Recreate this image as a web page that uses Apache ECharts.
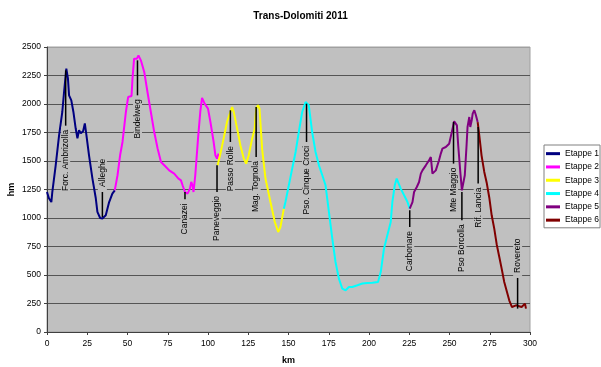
<!DOCTYPE html>
<html>
<head>
<meta charset="utf-8">
<script src="https://cdn.jsdelivr.net/npm/echarts@6/dist/echarts.min.js"></script>
<style>html,body{margin:0;padding:0;background:#fff;}#chart{width:601px;height:367px;}</style>
</head>
<body>
<div id="chart"></div>
<script>
const stageNames = ['Etappe 1','Etappe 2','Etappe 3','Etappe 4','Etappe 5','Etappe 6'];
const stageColors = ['#000080','#ff00ff','#ffff00','#00ffff','#800080','#800000'];

const stage1 = [[0,1228],[1.2,1173],[2.7,1140],[3.3,1228],[5.4,1462],[7.5,1725],[9.5,1930],[10.6,2105],[12,2310],[13,2225],[13.7,2076],[15.1,2032],[16.4,1930],[17.8,1787],[18.9,1700],[19.9,1770],[21,1743],[22.4,1760],[23.5,1830],[24.5,1725],[26.1,1550],[28.2,1348],[30.3,1173],[31.3,1053],[33,1000],[34.4,995],[36.5,1024],[38.6,1140],[40.6,1214],[42.1,1243]];
const stage2 = [[42.1,1243],[43.8,1375],[45.4,1550],[46.9,1667],[49,1930],[50.4,2061],[52.5,2070],[53.1,2223],[54.1,2398],[55.8,2398],[56.8,2427],[58.3,2383],[59.3,2398],[60.4,2281],[62.4,2105],[64.5,1930],[66.6,1754],[68.7,1609],[70.8,1491],[73.3,1456],[75.9,1418],[79,1389],[81.5,1348],[83.2,1330],[84.2,1287],[85.7,1228],[87.3,1214],[88.8,1258],[89.6,1316],[90.4,1287],[91,1228],[92.1,1375],[93.8,1696],[95.2,1930],[96.3,2053],[97.9,2003],[100,1960],[101.5,1842],[103.5,1667],[104.6,1550],[105.6,1521],[106.6,1565]];
const stage3 = [[106,1462],[107.7,1565],[109.7,1696],[111.8,1842],[113.9,1930],[115,1974],[116,1930],[118.1,1784],[120.1,1638],[122.2,1521],[123.7,1477],[125.3,1550],[127.4,1696],[129,1784],[129.9,1960],[131.1,1989],[132,1960],[133.6,1609],[135.7,1346],[138.8,1140],[141.5,965],[143.6,877],[145,921],[147.1,1082]];
const stage4 = [[147.1,1082],[148.1,1140],[150.2,1287],[152.3,1433],[154.4,1579],[156.4,1754],[158.5,1930],[160.6,2018],[161.6,2018],[162.6,1989],[164.7,1754],[166.8,1579],[168.9,1462],[171,1375],[173,1287],[175.1,1053],[177.2,819],[179.2,614],[181.3,468],[183.4,381],[185.5,366],[187.5,395],[189.6,395],[192.8,410],[195.9,425],[199,430],[202.1,433],[205.6,439],[207.3,526],[209.3,731],[211.4,848],[213.5,965],[214.5,1140],[216,1287],[217.2,1346],[218,1330],[219.7,1258],[221.8,1200],[223.9,1140],[225.3,1082]];
const stage5 = [[225.3,1082],[227,1140],[228,1228],[229.7,1272],[231.1,1316],[232.2,1389],[233.2,1418],[234.2,1404],[235.3,1462],[236.3,1447],[237.3,1506],[238.4,1535],[239.4,1389],[240.4,1375],[241.5,1418],[242.5,1433],[243.5,1506],[244.6,1565],[245.6,1609],[246.7,1594],[247.7,1623],[248.8,1623],[249.8,1652],[250.8,1667],[251.9,1784],[252.9,1848],[253.9,1848],[254.6,1813],[255.4,1638],[256.7,1404],[257.7,1243],[258.7,1228],[259.5,1375],[260.6,1638],[261.2,1798],[262.3,1886],[262.9,1798],[263.8,1857],[264.4,1916],[265.4,1945],[266.4,1901],[267.5,1842]];
const stage6 = [[267.5,1842],[268.5,1725],[269.9,1550],[271.6,1404],[273.2,1302],[274.7,1180],[276.2,1024],[277.8,907],[279.3,770],[280.9,660],[282.4,556],[284,439],[285.7,351],[287.1,278],[288.8,219],[289.8,205],[291.3,234],[292.7,228],[293.9,240],[294.8,219],[296,234],[296.9,249],[297.5,205]];

const annoNames = ['Forc. Ambrizolla','Alleghe','Bindelweg','Canazei','Paneveggio','Passo Rolle','Mag. Tognola','Pso. Cinque Croci','Carbonare','Mte Maggio','Pso Borcolla','Rif. Lancia','Rovereto'];
const annoKm = [11.6,34.4,56.2,85.7,105.6,113.9,129.9,161.2,225.3,252.5,257.7,267.8,292.3];
const annoTop = [2295,1228,2383,1228,1462,1945,1974,2003,1068,1842,1228,1798,474];
const annoBottom = [1810,1009,2076,1164,1228,1667,1535,1667,921,1477,980,1302,205];
const annoSide = ['below','above','below','below','below','below','below','below','below','below','below','below','above'];

const FONT = "'Liberation Sans', Arial, sans-serif";
const stages = [stage1, stage2, stage3, stage4, stage5, stage6];

const splitColors = [];
for (let i = 0; i < 10; i++) splitColors.push('#555555');
splitColors.push('#a0a0a0');

const series = stages.map((d, i) => ({
  type: 'line', name: stageNames[i], data: d, showSymbol: false, symbol: 'none',
  lineStyle: { color: stageColors[i], width: 2 }, itemStyle: { color: stageColors[i] },
  z: 3
}));

series.push({
  type: 'custom', name: 'labels', coordinateSystem: 'cartesian2d', silent: true, z: 10,
  data: annoKm.map((k, i) => [k, annoTop[i], annoBottom[i]]),
  encode: { x: 0, y: [1, 2] },
  renderItem: function (params, api) {
    const i = params.dataIndex;
    const p1 = api.coord([api.value(0), api.value(1)]);
    const p2 = api.coord([api.value(0), api.value(2)]);
    const below = annoSide[i] === 'below';
    return {
      type: 'group',
      children: [
        { type: 'line', shape: { x1: p1[0], y1: p1[1], x2: p2[0], y2: p2[1] }, style: { stroke: '#000', lineWidth: 1.5 } },
        { type: 'text', x: p1[0], y: below ? p2[1] + 1 : p1[1] - 2, rotation: Math.PI / 2,
          style: { text: annoNames[i], fill: '#000', fontSize: 8.5, fontFamily: FONT,
            align: below ? 'right' : 'left', verticalAlign: 'middle',
            backgroundColor: '#c0c0c0', padding: [0, 3] } }
      ]
    };
  }
});

const chart = echarts.init(document.getElementById('chart'), null, { renderer: 'canvas' });
chart.setOption({
  animation: false,
  backgroundColor: '#ffffff',
  title: { text: 'Trans-Dolomiti 2011', left: 'center', top: 6,
    textStyle: { fontSize: 10, fontWeight: 'bold', color: '#000', fontFamily: FONT } },
  legend: {
    data: stageNames, orient: 'vertical', left: 544, top: 145,
    icon: 'rect', itemWidth: 14, itemHeight: 3, itemGap: 0,
    backgroundColor: '#ffffff', borderColor: '#808080', borderWidth: 1, borderRadius: 0,
    padding: [2, 1, 1, 2],
    textStyle: { fontSize: 8.5, color: '#000', fontFamily: FONT, lineHeight: 13.3 }
  },
  grid: { left: 47, right: 71, top: 47, bottom: 35, containLabel: false, outerBoundsMode: 'none',
    show: true, backgroundColor: '#c0c0c0', borderColor: '#a0a0a0', borderWidth: 1 },
  xAxis: {
    type: 'value', min: 0, max: 300, interval: 25,
    name: 'km', nameLocation: 'middle', nameGap: 24, nameMoveOverlap: false,
    nameTextStyle: { fontSize: 9, fontWeight: 'bold', color: '#000', fontFamily: FONT },
    axisLine: { show: true, lineStyle: { color: '#404040', width: 1 } },
    axisTick: { show: true, length: 3, lineStyle: { color: '#404040' } },
    axisLabel: { fontSize: 8.5, color: '#000', fontFamily: FONT, margin: 7, formatter: v => String(v) },
    splitLine: { show: false }
  },
  yAxis: {
    type: 'value', min: 0, max: 2500, interval: 250,
    name: 'hm', nameLocation: 'middle', nameGap: 31, nameRotate: 90, nameMoveOverlap: false,
    nameTextStyle: { fontSize: 9, fontWeight: 'bold', color: '#000', fontFamily: FONT },
    axisLine: { show: true, lineStyle: { color: '#404040', width: 1 } },
    axisTick: { show: true, length: 3, lineStyle: { color: '#404040' } },
    axisLabel: { fontSize: 8.5, color: '#000', fontFamily: FONT, margin: 6, formatter: v => String(v) },
    splitLine: { show: true, lineStyle: { color: splitColors, width: 1 } }
  },
  series: series
});
</script>
</body>
</html>
